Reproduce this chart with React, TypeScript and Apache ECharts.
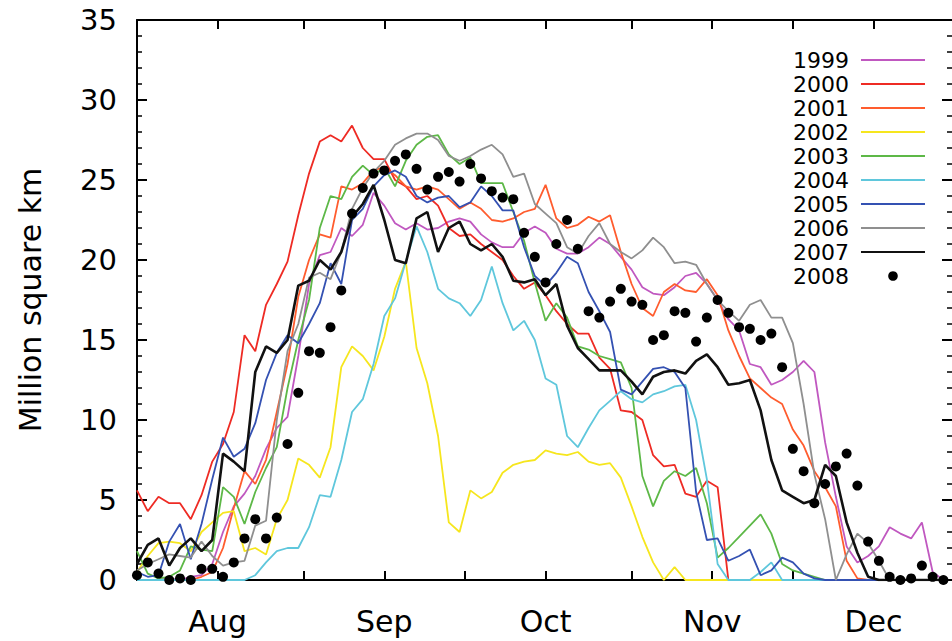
import React, { useEffect, useRef } from 'react';
import * as echarts from 'echarts';

// day of year (non-leap), every second day, 17 Jul .. 14 Dec
const days = [
  198, 200, 202, 204, 206, 208, 210, 212, 214, 216, 218, 220, 222, 224, 226, 228, 230, 232, 234, 236,
  238, 240, 242, 244, 246, 248, 250, 252, 254, 256, 258, 260, 262, 264, 266, 268, 270, 272, 274, 276,
  278, 280, 282, 284, 286, 288, 290, 292, 294, 296, 298, 300, 302, 304, 306, 308, 310, 312, 314, 316,
  318, 320, 322, 324, 326, 328, 330, 332, 334, 336, 338, 340, 342, 344, 346, 348,
];

const v1999 = [
  0, 0, 0, 0.1, 0, 0.2, 0.3, 1.0, 3.0, 4.6, 5.4, 6.5, 8.2, 9.5, 10.2, 14.0, 18.5, 20.3, 20.5, 22.0,
  21.5, 22.2, 24.2, 23.4, 22.3, 21.9, 22.3, 21.9, 22.0, 22.4, 22.6, 22.4, 21.6, 21.1, 20.8, 20.8, 21.7, 22.1, 21.7, 20.7,
  20.4, 20.4, 20.8, 21.4, 21.0, 20.2, 19.4, 18.3, 17.9, 17.8, 18.3, 19.0, 19.2, 18.5, 17.5, 16.3, 15.6, 13.5, 13.3, 12.2,
  12.5, 13.0, 13.7, 13.0, 8.6, 5.2, 2.1, 1.1, 1.5, 2.1, 3.3, 2.9, 2.6, 3.6, 0.5, 0,
];

const v2000 = [
  5.6, 4.3, 5.2, 4.8, 4.8, 3.8, 5.3, 7.4, 8.5, 10.5, 15.3, 14.3, 17.2, 18.5, 19.9, 22.8, 25.4, 27.4, 27.8, 27.4,
  28.4, 27.0, 26.3, 26.3, 25.0, 24.6, 23.8, 24.0, 23.4, 22.0, 21.5, 21.6, 21.0, 20.5, 20.0, 19.0, 18.2, 18.6, 17.8, 16.8,
  16.0, 15.4, 15.4, 13.9, 13.2, 10.6, 10.5, 10.0, 7.8, 7.1, 7.2, 5.4, 5.2, 6.2, 5.8, 0, 0, 0, 0, 0,
  0, 0, 0, 0, 0, 0, 0, 0, 0, 0, 0, 0, 0, 0, 0, 0,
];

const v2001 = [
  0, 0, 0, 0, 0, 0, 0.2, 0.5, 2.0, 4.5, 6.8, 6.0, 7.5, 10.5, 13.5, 17.7, 20.0, 21.6, 21.4, 24.6,
  24.4, 24.8, 25.6, 25.8, 25.3, 24.6, 24.4, 24.6, 24.4, 23.8, 23.2, 23.6, 23.2, 22.5, 22.4, 22.6, 23.0, 23.2, 24.7, 22.6,
  22.0, 22.2, 22.7, 22.4, 22.8, 20.5, 18.5, 17.0, 16.5, 18.0, 18.5, 18.1, 18.0, 18.8, 17.8, 15.6, 14.0, 12.6, 12.0, 11.4,
  11.0, 9.4, 8.4, 6.8, 5.8, 4.6, 1.2, 0.1, 0, 0, 0, 0, 0, 0, 0, 0,
];

const v2002 = [
  0.5, 1.5, 2.3, 2.4, 2.3, 1.8, 3.0, 3.6, 4.2, 4.3, 1.8, 2.0, 1.6, 3.8, 5.0, 7.6, 7.2, 6.4, 8.3, 13.3,
  14.6, 14.0, 13.1, 15.2, 18.2, 19.9, 14.5, 12.3, 9.0, 3.6, 3.0, 5.6, 5.1, 5.5, 6.7, 7.2, 7.4, 7.5, 8.1, 7.9,
  7.8, 8.0, 7.4, 7.2, 7.3, 6.4, 4.6, 2.7, 1.1, 0, 0.8, 0, 0, 0, 0, 0, 0, 0, 0, 0,
  0, 0, 0, 0, 0, 0, 0, 0, 0, 0, 0, 0, 0, 0, 0, 0,
];

const v2003 = [
  1.8, 0.4, 0.1, 0.2, 0.6, 2.1, 1.9, 1.8, 5.8, 5.2, 3.5, 5.5, 7.0, 8.3, 12.0, 15.0, 17.5, 22.0, 24.0, 23.8,
  25.2, 25.9, 25.3, 25.8, 24.6, 26.2, 27.2, 27.7, 27.8, 26.6, 26.0, 26.4, 24.8, 24.8, 24.8, 23.0, 21.2, 18.6, 16.2, 17.3,
  16.4, 14.6, 14.4, 14.0, 13.8, 13.6, 12.0, 6.5, 4.6, 6.2, 6.8, 6.5, 7.0, 4.8, 1.4, 2.0, 2.7, 3.4, 4.1, 2.9,
  1.0, 0.6, 0.4, 0.2, 0, 0, 0, 0, 0, 0, 0, 0, 0, 0, 0, 0,
];

const v2004 = [
  0, 0, 0, 0, 0, 0, 0, 0, 0, 0, 0, 0.3, 1.1, 1.8, 2.0, 2.0, 3.3, 5.3, 5.2, 7.5,
  10.5, 11.3, 13.5, 16.5, 17.6, 19.9, 22.1, 20.5, 18.2, 17.6, 17.3, 16.5, 17.5, 19.6, 17.3, 15.6, 16.2, 15.0, 12.6, 12.2,
  9.0, 8.3, 9.5, 10.6, 11.2, 11.8, 11.3, 11.1, 11.6, 11.8, 12.1, 12.2, 10.0, 6.3, 1.0, 0, 0, 0, 0.5, 1.1,
  0, 0, 0, 0, 0, 0, 0, 0, 0, 0, 0, 0, 0, 0, 0, 0,
];

const v2005 = [
  0.5, 0.2, 0.3, 2.4, 3.5, 1.3, 3.5, 6.3, 8.9, 7.7, 8.2, 9.8, 12.5, 14.2, 15.3, 14.8, 16.0, 17.3, 19.8, 18.5,
  22.5, 23.2, 24.6, 25.3, 25.6, 25.2, 24.0, 23.6, 23.9, 24.0, 23.3, 23.6, 24.6, 24.0, 23.1, 23.1, 20.8, 19.0, 18.4, 19.2,
  20.2, 19.8, 18.0, 16.8, 15.5, 11.9, 11.6, 12.4, 13.2, 13.3, 13.0, 12.0, 5.5, 2.5, 2.6, 1.2, 1.5, 1.9, 0.3, 0.6,
  1.4, 1.1, 0.4, 0.1, 0, 0, 0, 0, 0, 0, 0, 0, 0, 0, 0, 0,
];

const v2006 = [
  0.6, 1.0, 1.3, 1.6, 1.5, 1.4, 2.4, 1.5, 0.9, 1.1, 1.2, 3.4, 3.7, 10.0, 14.3, 16.0, 18.9, 19.2, 18.8, 20.5,
  23.2, 24.5, 25.5, 26.2, 27.2, 27.6, 27.9, 27.9, 27.5, 26.5, 26.2, 26.5, 26.9, 27.2, 26.6, 25.2, 25.4, 23.5, 22.9, 22.3,
  20.8, 20.4, 21.5, 22.3, 21.0, 20.5, 20.1, 20.6, 21.4, 20.8, 19.8, 19.9, 19.7, 18.5, 17.5, 16.8, 16.2, 17.2, 17.5, 16.4,
  16.4, 14.8, 11.0, 6.6, 3.8, 0, 1.6, 2.9, 2.3, 1.2, 0, 0, 0, 0, 0, 0,
];

const v2007 = [
  1.0, 2.2, 2.6, 0.9, 2.0, 2.6, 1.8, 2.5, 7.9, 7.4, 6.8, 13.0, 14.6, 14.2, 15.0, 18.4, 18.7, 20.0, 19.4, 20.5,
  22.7, 23.5, 24.7, 22.5, 20.0, 19.8, 22.6, 23.0, 20.5, 22.0, 22.4, 21.0, 20.6, 21.0, 20.2, 18.7, 18.6, 18.8, 17.8, 18.5,
  15.9, 14.5, 13.8, 13.1, 13.1, 13.1, 12.4, 11.6, 12.7, 13.0, 13.1, 12.9, 13.7, 14.1, 13.3, 12.2, 12.3, 12.5, 10.6, 7.5,
  5.6, 5.2, 4.8, 5.0, 7.2, 6.5, 3.6, 1.7, 0.2, 0, 0, 0, 0, 0, 0, 0,
];

const v2008 = [
  0.3, 1.1, 0.4, 0, 0.1, 0, 0.7, 0.7, 0.2, 1.1, 2.6, 3.8, 2.6, 3.9, 8.5, 11.7, 14.3, 14.2, 15.8, 18.1,
  22.9, 24.5, 25.4, 25.6, 26.2, 26.6, 25.7, 24.4, 25.2, 25.5, 24.9, 26.0, 25.1, 24.3, 23.9, 23.8, 21.7, 20.2, 18.6, 21.0,
  22.5, 20.7, 16.8, 16.4, 17.4, 18.2, 17.4, 17.2, 15.0, 15.3, 16.8, 16.7, 14.9, 16.4, 17.5, 16.7, 15.8, 15.7, 15.0, 15.4,
  13.3, 8.2, 6.8, 4.8, 6.0, 7.1, 7.9, 5.9, 2.4, 1.2, 0.2, 0, 0.1, 0.9, 0.2, 0,
];

const lineYears = ['1999', '2000', '2001', '2002', '2003', '2004', '2005', '2006', '2007'];
const lineValues = [v1999, v2000, v2001, v2002, v2003, v2004, v2005, v2006, v2007];
const lineColors = ['#c058c0', '#ee2b24', '#ff5c2e', '#f6e61e', '#5db847', '#5fc7dc', '#3451b2', '#8f8f8f', '#111111'];
const lineWidths = [1.8, 1.8, 1.8, 1.8, 1.8, 1.8, 1.8, 1.8, 2.6];
const dotYear = '2008';

const monthTickDays = [213, 244, 274, 305, 335];
const monthLabels = ['Aug', 'Sep', 'Oct', 'Nov', 'Dec'];
const halfMonthTickDays = [213, 229, 244, 259, 274, 290, 305, 320, 335];
const yTitle = 'Million square km';

export default function App() {
  const ref = useRef<HTMLDivElement>(null);

  useEffect(() => {
    if (!ref.current) return;
    const chart = echarts.init(ref.current, null, { renderer: 'svg' });
    const font = 'DejaVu Sans';
    const black = '#000';

    const xBase = {
      type: 'value',
      min: 198,
      max: 349.6,
      splitLine: { show: false },
      axisLine: { show: true, onZero: false, lineStyle: { color: black, width: 2 } },
      axisTick: {
        show: true,
        inside: true,
        length: 9,
        customValues: halfMonthTickDays,
        lineStyle: { color: black, width: 2 },
      },
    };

    const yBase = {
      type: 'value',
      min: 0,
      max: 35,
      interval: 5,
      splitLine: { show: false },
      axisTick: { show: true, inside: true, length: 10, lineStyle: { color: black, width: 2 } },
      minorTick: { show: true, splitNumber: 5, length: 5, lineStyle: { color: black, width: 1.5 } },
    };

    const lineSeries = lineYears.map((year, k) => ({
      name: year,
      type: 'line',
      data: days.map((d, i) => [d, lineValues[k][i]]),
      symbol: 'none',
      showSymbol: false,
      lineStyle: { color: lineColors[k], width: lineWidths[k] },
      itemStyle: { color: lineColors[k] },
      xAxisIndex: 0,
      yAxisIndex: 0,
    }));

    const option = {
      animation: false,
      backgroundColor: '#fff',
      textStyle: { fontFamily: font },
      grid: { left: 137, top: 20, right: 0, bottom: 61, containLabel: false },
      legend: {
        orient: 'vertical',
        left: 788,
        top: 44,
        align: 'right',
        itemWidth: 64,
        itemHeight: 12,
        itemGap: 2,
        textStyle: { fontFamily: font, fontSize: 22, color: black, lineHeight: 22, padding: [0, 7, 0, 0] },
        data: [
          ...lineYears.map((y) => ({ name: y, itemStyle: { opacity: 0 } })),
          { name: dotYear },
        ],
      },
      xAxis: [
        {
          ...xBase,
          position: 'bottom',
          axisLabel: {
            show: true,
            customValues: monthTickDays,
            formatter: (val: number) => {
              const idx = monthTickDays.indexOf(Math.round(val));
              return idx >= 0 ? monthLabels[idx] : '';
            },
            fontFamily: font,
            fontSize: 30,
            color: black,
            margin: 26,
          },
        },
        {
          ...xBase,
          position: 'top',
          axisLabel: { show: false },
        },
      ],
      yAxis: [
        {
          ...yBase,
          position: 'left',
          axisLine: { show: true, onZero: false, lineStyle: { color: black, width: 2 } },
          axisLabel: { show: true, fontFamily: font, fontSize: 29, color: black, margin: 20 },
          name: yTitle,
          nameLocation: 'middle',
          nameGap: 92,
          nameTextStyle: { fontFamily: font, fontSize: 30, color: black },
        },
        {
          ...yBase,
          position: 'right',
          axisLine: { show: false },
          axisLabel: { show: false },
        },
      ],
      series: [
        ...lineSeries,
        {
          name: dotYear,
          type: 'line',
          data: days.map((d, i) => [d, v2008[i]]),
          symbol: 'circle',
          symbolSize: 10,
          showSymbol: true,
          showAllSymbol: true,
          lineStyle: { width: 0, opacity: 0, color: black },
          itemStyle: { color: black, opacity: 1 },
          xAxisIndex: 0,
          yAxisIndex: 0,
        },
      ],
    };

    chart.setOption(option as any);
    return () => chart.dispose();
  }, []);

  return (
    <div
      ref={ref}
      style={{ position: 'fixed', left: 0, top: 0, width: 952, height: 641, background: '#fff' }}
    />
  );
}
